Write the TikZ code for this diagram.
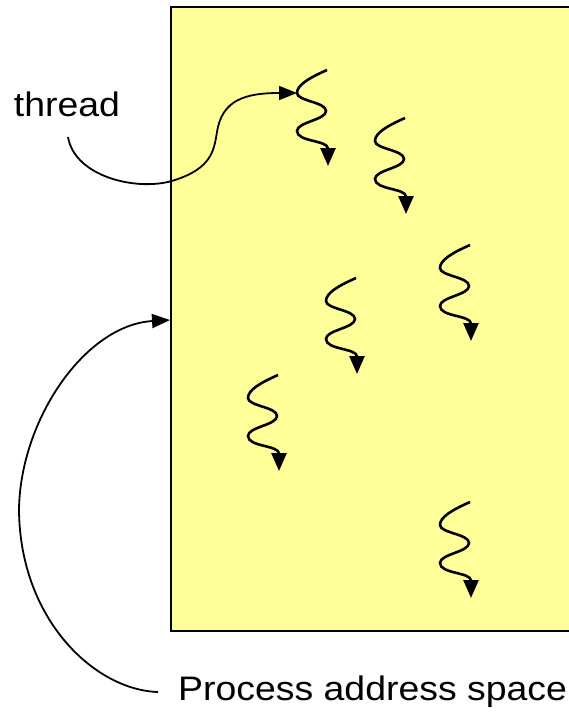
\documentclass[tikz,border=0pt]{standalone}
\usepackage{fontspec}
\setmainfont{Liberation Sans}
\usetikzlibrary{arrows.meta}

\tikzset{
  squig/.style={line width=2.6pt, -{Triangle[length=18pt,width=15pt]}},
  pointer/.style={line width=1.8pt, -{Triangle[length=18pt,width=14pt]}},
  label/.style={font=\fontsize{34}{40}\selectfont, xscale=1.1, inner sep=0pt},
  squiggle/.pic={
    \draw[squig] (0,0) .. controls (-18,8) and (-30,15) .. (-30,23)
      .. controls (-30,31) and (-1,32) .. (-1,41)
      .. controls (-1,50) and (-30,52) .. (-30,61)
      .. controls (-30,72) and (1,70) .. (1,96);
    \coordinate (-bump) at (-30,23);
  },
}

\begin{document}
\begin{tikzpicture}[x=1pt, y=-1pt]
\useasboundingbox (0,0) rectangle (568,720);

% address space
\draw[line width=2.6pt, fill={rgb,255:red,255;green,255;blue,153}] (171,7) rectangle (600,631);
\coordinate (edge) at (170,320);

% threads
\pic (t1) at (327,70) {squiggle};
\pic (t2) at (405,118) {squiggle};
\pic (t3) at (470,245) {squiggle};
\pic (t4) at (356,278) {squiggle};
\pic (t5) at (278,375) {squiggle};
\pic (t6) at (470,502) {squiggle};

% labels
\node[label] (thread) at (67,104) {thread};
\node[label, anchor=west] (pas) at (178,692) {Process address space};

\draw[pointer] (68,137) .. controls (75,178) and (140,192) .. (175,180)
  .. controls (212,168) and (214,150) .. (217,132)
  .. controls (222,100) and (245,93) .. (t1-bump);
\draw[pointer] (pas.west) ++(-20,0) .. controls (95,690) and (20,620) .. (19,510)
  .. controls (20,420) and (85,325) .. (edge);
\end{tikzpicture}
\end{document}
